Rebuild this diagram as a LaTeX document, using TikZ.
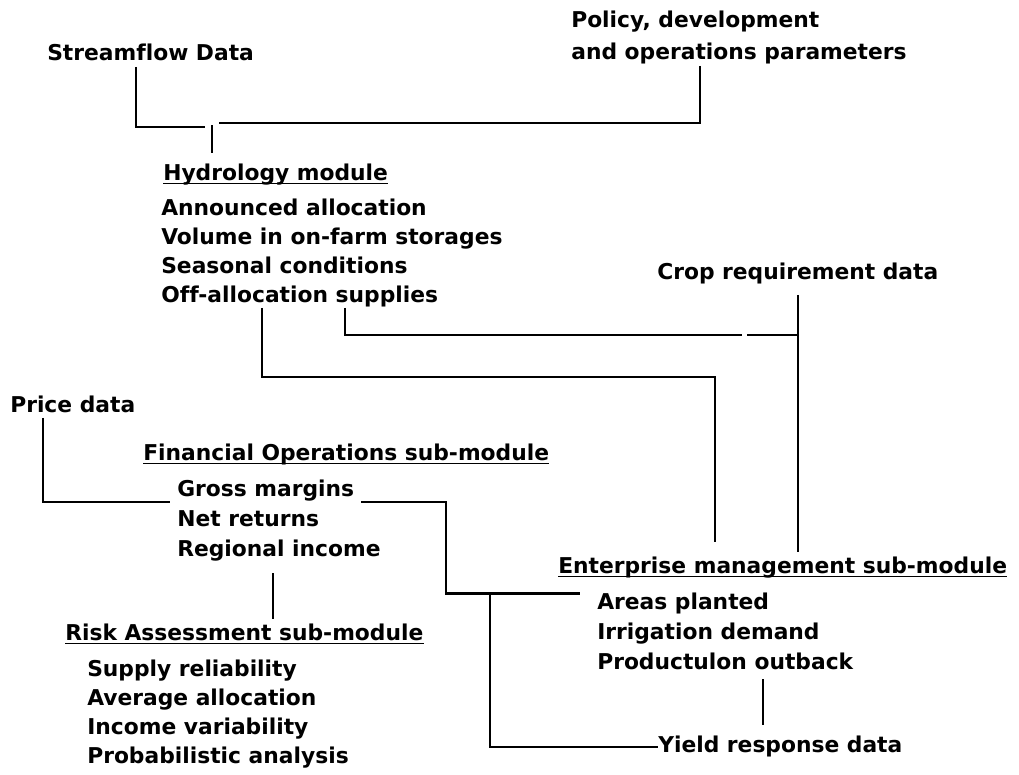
\documentclass[tikz,border=0pt]{standalone}
\usepackage{fontspec}
\setmainfont[Ligatures=NoCommon]{DejaVu Sans}
\usetikzlibrary{calc}

\begin{document}
\begin{tikzpicture}[x=0.025cm,y=-0.025cm]

\tikzstyle{txt} = [anchor=base west, inner sep=0pt, text height=11pt, text depth=4pt, font=\fsize]
\tikzstyle{wire} = [line width=1.8pt]
\tikzstyle{uline} = [line width=1.2pt]

\def \fsize{\fontsize{15.5}{21}\selectfont\bfseries}

\path[fill=white] (0,0) rectangle (1019,775);

%Inputs at the top
\node[txt](stream) at (47,61){Streamflow Data};
\node[txt](pol1) at (571,28){Policy, development};
\node[txt](pol2) at (571,60){and operations parameters};

%Hydrology module
\node[txt](hyd) at (163,180){Hydrology module};
\foreach \t [count=\i] in {Announced allocation,Volume in on-farm storages,Seasonal conditions,Off-allocation supplies}
  \node[txt](hyd\i) at (161,186+29*\i){\t};

%Both inputs join above the Hydrology module
\coordinate (jn) at (212,125);
\draw[wire] ($(stream.south west)+(89,0)$) |- ($(jn)+(-7,2)$);
\draw[wire] ($(pol2.south west)+(129,0)$) |- ($(jn)+(7,-2)$);
\draw[wire,shorten >=8pt] (jn) -- (jn |- hyd.north);

%Crop data
\node[txt](crop) at (657,279){Crop requirement data};

%Enterprise management sub-module
\node[txt](ent) at (558,573){Enterprise management sub-module};
\foreach \t [count=\i] in {Areas planted,Irrigation demand,Productulon outback}
  \node[txt](ent\i) at (597,579+30*\i){\t};
\node[txt](yield) at (658,752){Yield response data};

%From Hydrology to Enterprise
\coordinate (ob) at (715,377);
\coordinate (sg) at (742,335);
\draw[wire,shorten >=11pt] ($(hyd4.south west)+(101,0)$) |- (ob) -- (ob |- ent.north);
\draw[wire] ($(hyd4.south west)+(184,0)$) |- (sg);
\draw[wire] ($(sg)+(5,0)$) -- (crop.south |- sg);
\draw[wire,shorten <=7pt,shorten >=4pt] (crop.south) -- (crop.south |- ent.north);

%Price data and Financial Operations sub-module
\node[txt](price) at (10,412){Price data};
\node[txt](fin) at (143,460){Financial Operations sub-module};
\foreach \t [count=\i] in {Gross margins,Net returns,Regional income}
  \node[txt](fin\i) at (177,466+30*\i){\t};

\draw[wire] ($(price.south west)+(33,0)$) |- ([xshift=-5pt]fin1.south west);
\draw[wire] ([xshift=5pt]fin1.south east) -| ($(ent1.north west)+(-151,0)$) -- ($(ent1.north west)+(-17,0)$);
\draw[wire] ($(ent1.north west)+(-107,0)$) |- (yield.west);

%Risk Assessment sub-module
\node[txt](risk) at (65,640){Risk Assessment sub-module};
\foreach \t [count=\i] in {Supply reliability,Average allocation,Income variability,Probabilistic analysis}
  \node[txt](risk\i) at (87,647+29*\i){\t};

\draw[wire,shorten <=8pt,shorten >=4pt] ($(fin3.south west)+(96,0)$) -- ($(risk.north west)+(208,0)$);
\draw[wire,shorten <=3pt,shorten >=8pt] ($(ent3.south west)+(166,0)$) -- ($(yield.north west)+(105,0)$);

%Underlined titles
\foreach \m in {hyd,fin,risk,ent}
  \draw[uline] ([yshift=-2.5pt]\m.base west) -- ([yshift=-2.5pt]\m.base east);

\end{tikzpicture}
\end{document}
